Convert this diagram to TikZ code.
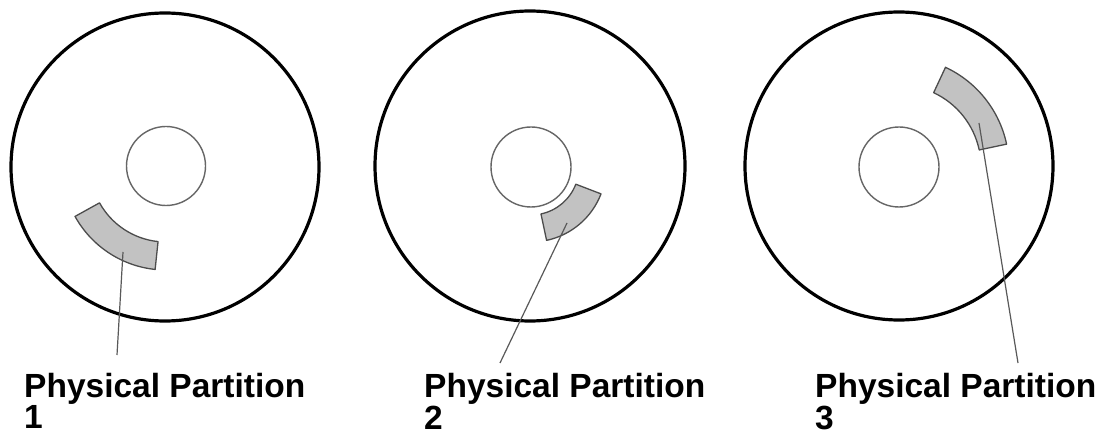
\documentclass[tikz,border=0pt]{standalone}
\usepackage{fontspec}
\setmainfont{Liberation Sans}
\begin{document}
\begin{tikzpicture}[x=1pt,y=1pt,
  outerdisk/.style={draw=black,line width=3.2pt},
  innerdisk/.style={draw=black!60,line width=1.4pt},
  sector/.style={draw=black!70,fill=black!24,line width=1.3pt,line join=round},
  leader/.style={draw=black!65,line width=1.2pt},
  lbl/.style={anchor=north west,inner sep=0pt,align=left,
    font=\fontsize{33.5}{29.5}\selectfont\bfseries}]
\useasboundingbox[fill=white] (0,0) rectangle (1101,429);
\clip (0,0) rectangle (1101,429);
% centres
\coordinate (o1) at (165,262);
\coordinate (o2) at (530,263);
\coordinate (o3) at (899,263);
\coordinate (c1) at (166,263);
\coordinate (c2) at (531,262);
\coordinate (c3) at (899,262);
% disks
\draw[outerdisk] (o1) circle[radius=154];
\draw[outerdisk] (o2) circle[radius=155];
\draw[outerdisk] (o3) circle[radius=154];
\draw[innerdisk] (c1) circle[radius=39.5];
\draw[innerdisk] (c2) circle[radius=40];
\draw[innerdisk] (c3) circle[radius=40];
% partitions
\draw[sector,shift={(c1)}] (209:76) arc[start angle=209,end angle=264,radius=76]
  -- (264:104) arc[start angle=264,end angle=209,radius=104] -- cycle;
\draw[sector,shift={(c2)}] (-78:48) arc[start angle=-78,end angle=-21,radius=48]
  -- (-21:75) arc[start angle=-21,end angle=-78,radius=75] -- cycle;
\draw[sector,shift={(c3)}] (12:82) arc[start angle=12,end angle=65,radius=82]
  -- (65:110) arc[start angle=65,end angle=12,radius=110] -- cycle;
% labels
\node[lbl] (l1) at (24,55.5) {Physical Partition\\1};
\node[lbl] (l2) at (424,55.5) {Physical Partition\\2};
\node[lbl] (l3) at (815,55.5) {Physical Partition\\3};
% leaders
\coordinate (p1) at (123,177);
\coordinate (e1) at (117,74);
\coordinate (p2) at (567,206);
\coordinate (e2) at (500,66);
\coordinate (p3) at (979,306);
\coordinate (e3) at (1018,66);
\draw[leader] (p1) -- (e1);
\draw[leader] (p2) -- (e2);
\draw[leader] (p3) -- (e3);
\end{tikzpicture}
\end{document}
